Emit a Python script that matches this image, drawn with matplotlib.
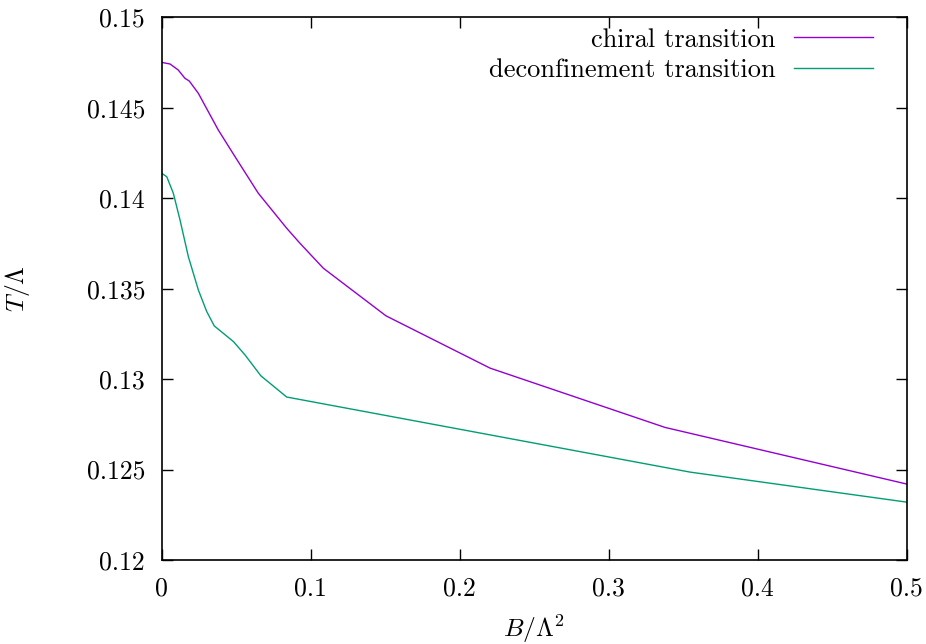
import matplotlib
matplotlib.use("Agg")
import matplotlib.pyplot as plt

plt.rcParams['font.family'] = 'serif'
plt.rcParams['font.serif'] = ['cmr10']
plt.rcParams['mathtext.fontset'] = 'cm'
plt.rcParams['axes.formatter.use_mathtext'] = True

# chiral transition temperature vs magnetic field
b_chiral = [0, 0.0056, 0.0111, 0.0156, 0.0185, 0.0246, 0.038, 0.0492, 0.0648,
            0.0839, 0.0928, 0.1085, 0.1505, 0.2203, 0.3378, 0.5]
t_chiral = [0.14751, 0.14742, 0.14709, 0.14663, 0.14648, 0.1458, 0.14377, 0.1423,
            0.14028, 0.13834, 0.13751, 0.13613, 0.1335, 0.13061, 0.12733, 0.1242]

# deconfinement transition temperature vs magnetic field
b_deconf = [0, 0.0034, 0.0078, 0.0123, 0.0179, 0.0246, 0.0302, 0.0353, 0.0481,
            0.0559, 0.0666, 0.0839, 0.3546, 0.5]
t_deconf = [0.14138, 0.14119, 0.14028, 0.1388, 0.13677, 0.13493, 0.13374, 0.13294,
            0.13208, 0.13134, 0.13018, 0.12901, 0.12486, 0.1232]

xticks = [0, 0.1, 0.2, 0.3, 0.4, 0.5]
xticklabels = ['0', '0.1', '0.2', '0.3', '0.4', '0.5']
yticks = [0.12, 0.125, 0.13, 0.135, 0.14, 0.145, 0.15]
yticklabels = ['0.12', '0.125', '0.13', '0.135', '0.14', '0.145', '0.15']

FS = 18.5

fig = plt.figure(figsize=(9.26, 6.44), dpi=100)
ax = fig.add_axes([0.1746, 0.1304, 0.8046, 0.8427])

ax.plot(b_chiral, t_chiral, color='#9400d3', lw=1.0, label='chiral transition')
ax.plot(b_deconf, t_deconf, color='#009e73', lw=1.0, label='deconfinement transition')

ax.set_xlim(0, 0.5)
ax.set_ylim(0.12, 0.15)
ax.set_xticks(xticks)
ax.set_xticklabels(xticklabels)
ax.set_yticks(yticks)
ax.set_yticklabels(yticklabels)
ax.tick_params(direction='in', length=8, width=1, top=True, right=True,
               labelsize=FS, pad=12)
for s in ax.spines.values():
    s.set_linewidth(1.2)

ax.set_xlabel(r'$B/\Lambda^2$', fontsize=FS, labelpad=9)
ax.set_ylabel(r'$T/\Lambda$', fontsize=FS, labelpad=39)

ax.legend(loc='upper right', frameon=False, markerfirst=False, fontsize=19,
          handlelength=3.0, handletextpad=0.7, labelspacing=0.25,
          borderaxespad=0.0, bbox_to_anchor=(0.9686, 1.0))

fig.savefig('out.png', dpi=100)
